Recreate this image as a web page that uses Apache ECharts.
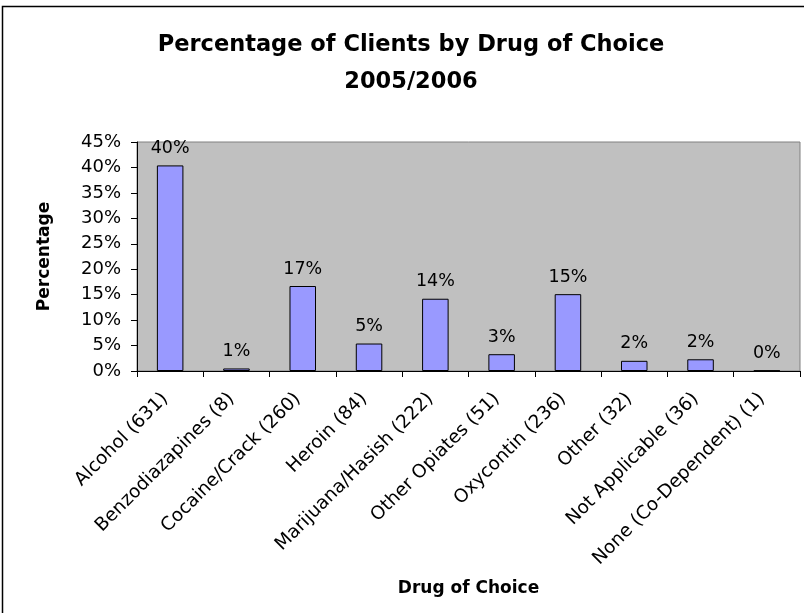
<!DOCTYPE html>
<html>
<head>
<meta charset="utf-8">
<script src="https://cdn.jsdelivr.net/npm/echarts@6/dist/echarts.min.js"></script>
<style>
  html, body { margin: 0; padding: 0; background: #fff; }
  #chart { width: 804px; height: 613px; }
</style>
</head>
<body>
<div id="chart"></div>
<script>
const titleLines = ['Percentage of Clients by Drug of Choice', '2005/2006'];
const categories = ['Alcohol (631)', 'Benzodiazapines (8)', 'Cocaine/Crack (260)', 'Heroin (84)', 'Marijuana/Hasish (222)', 'Other Opiates (51)', 'Oxycontin (236)', 'Other (32)', 'Not Applicable (36)', 'None (Co-Dependent) (1)'];
const percentages = [40.4, 0.5, 16.7, 5.4, 14.2, 3.3, 15.1, 2.0, 2.3, 0.1];
const valueLabels = ['40%', '1%', '17%', '5%', '14%', '3%', '15%', '2%', '2%', '0%'];
const yMin = 0, yMax = 45, yStep = 5;
const xAxisName = 'Drug of Choice';
const yAxisName = 'Percentage';

const FONT = 'DejaVu Sans';
const chart = echarts.init(document.getElementById('chart'), null, { renderer: 'canvas' });
chart.setOption({
  animation: false,
  backgroundColor: '#ffffff',
  graphic: [
    { type: 'polyline', shape: { points: [[2.5, 613], [2.5, 6.5], [804, 6.5]] }, style: { fill: 'none', stroke: '#000', lineWidth: 1.5 }, z: 100 },
    { type: 'text', x: 411, y: 27, style: { text: titleLines.join('\n'), font: 'bold 22.5px "' + FONT + '"', fill: '#000', align: 'center', verticalAlign: 'top', lineHeight: 37 } }
  ],
  grid: { left: 137, right: 4, top: 142, bottom: 242, show: true, backgroundColor: '#C0C0C0', borderColor: '#808080', borderWidth: 1 },
  xAxis: {
    type: 'category', data: categories,
    name: xAxisName, nameLocation: 'middle', nameGap: 209,
    nameTextStyle: { fontFamily: FONT, fontWeight: 'bold', fontSize: 17, color: '#000' },
    axisLine: { show: true, lineStyle: { color: '#000', width: 1 } },
    axisTick: { show: true, length: 6, lineStyle: { color: '#000' } },
    axisLabel: { interval: 0, rotate: 45, margin: 20, padding: [0, 7, 0, 0], fontFamily: FONT, fontSize: 18.5, color: '#000' },
    splitLine: { show: false }
  },
  yAxis: {
    type: 'value', min: yMin, max: yMax, interval: yStep,
    name: yAxisName, nameLocation: 'middle', nameGap: 84,
    nameTextStyle: { fontFamily: FONT, fontWeight: 'bold', fontSize: 17, color: '#000' },
    axisLine: { show: true, lineStyle: { color: '#000', width: 1 } },
    axisTick: { show: true, length: 6, lineStyle: { color: '#000' } },
    axisLabel: { margin: 16, fontFamily: FONT, fontSize: 18, color: '#000', formatter: '{value}%' },
    splitLine: { show: false }
  },
  series: [{
    type: 'bar', data: percentages, barWidth: '40%',
    itemStyle: { color: '#9999FF', borderColor: '#000', borderWidth: 1 },
    label: { show: true, position: 'top', distance: 8, fontFamily: FONT, fontSize: 17.5, color: '#000',
      formatter: p => valueLabels[p.dataIndex] }
  }]
});
</script>
</body>
</html>
